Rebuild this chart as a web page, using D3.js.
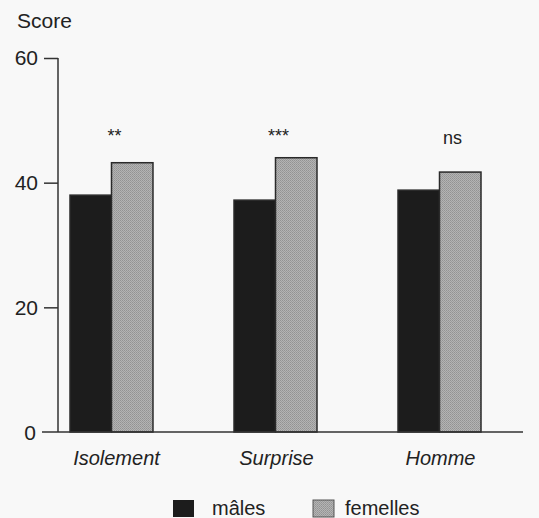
<!DOCTYPE html>
<html>
<head>
<meta charset="utf-8">
<script src="https://cdn.jsdelivr.net/npm/d3@7"></script>
<style>
  body { margin: 0; background: #f8f8f8; }
  svg { display: block; font-family: "Liberation Sans", Arial, sans-serif; }
</style>
</head>
<body>
<svg id="chart" width="539" height="518"></svg>
<script>
const categories = ["Isolement", "Surprise", "Homme"];
const series = ["mâles", "femelles"];
const males = [38.0, 37.2, 38.8];
const femelles = [43.2, 44.0, 41.7];
const signif = ["**", "***", "ns"];
const yTicks = [0, 20, 40, 60];

const svg = d3.select("#chart");
const colors = { "mâles": "#1c1c1c", "femelles": "#a6a6a6" };

// texture for the grey bars
const defs = svg.append("defs");
const pat = defs.append("pattern")
  .attr("id", "dots").attr("width", 2).attr("height", 2)
  .attr("patternUnits", "userSpaceOnUse");
pat.append("rect").attr("width", 2).attr("height", 2).attr("fill", "#b4b4b4");
pat.append("rect").attr("width", 1).attr("height", 1).attr("fill", "#939393");
pat.append("rect").attr("x", 1).attr("y", 1).attr("width", 1).attr("height", 1).attr("fill", "#9c9c9c");

const y = d3.scaleLinear([0, 60], [432, 58]);
const x0 = d3.scaleBand(categories, [70, 481]).paddingInner(0.494).paddingOuter(0);
const x1 = d3.scaleBand(series, [0, x0.bandwidth()]);

const data = categories.map((c, i) => ({ cat: c, vals: [
  { s: "mâles", v: males[i] }, { s: "femelles", v: femelles[i] }] }));

// y axis
const gy = svg.append("g").attr("transform", "translate(58,0)")
  .call(d3.axisLeft(y).tickValues(yTicks.filter(t => t > 0)).tickSize(14).tickPadding(6));
gy.select(".domain").attr("d", `M0,${y(60)}H-0V${y(0)}`);
gy.selectAll("line").attr("stroke", "#333").attr("stroke-width", 1.5);
gy.select(".domain").attr("stroke", "#333").attr("stroke-width", 1.5);
gy.selectAll("text").attr("font-size", 21).attr("fill", "#222")
  .attr("font-family", "Liberation Sans, Arial, sans-serif");

// bars
const groups = svg.append("g").selectAll("g").data(data).join("g")
  .attr("transform", d => `translate(${x0(d.cat)},0)`);
groups.selectAll("rect").data(d => d.vals).join("rect")
  .attr("x", d => x1(d.s))
  .attr("y", d => y(d.v))
  .attr("width", x1.bandwidth())
  .attr("height", d => y(0) - y(d.v))
  .attr("fill", d => d.s === "mâles" ? colors[d.s] : "url(#dots)")
  .attr("stroke", "#2a2a2a").attr("stroke-width", 1.5);

// baseline with zero tick
svg.append("line").attr("x1", 42).attr("x2", 523)
  .attr("y1", y(0)).attr("y2", y(0)).attr("stroke", "#333").attr("stroke-width", 1.5);
svg.append("text").attr("x", 30).attr("y", y(0) + 8).attr("text-anchor", "middle")
  .attr("font-size", 21).attr("fill", "#222").text(yTicks[0]);

// category labels
svg.append("g").selectAll("text").data(categories).join("text")
  .attr("x", (d, i) => x0(d) + x0.bandwidth() / 2 + (i === 0 ? 5 : 1))
  .attr("y", 465)
  .attr("text-anchor", "middle")
  .attr("font-size", 20).attr("font-style", "italic").attr("fill", "#222")
  .text(d => d);

// significance marks
svg.append("g").selectAll("text").data(signif).join("text")
  .attr("x", (d, i) => x0(categories[i]) + x0.bandwidth() / 2 + (d === "ns" ? 13 : 3))
  .attr("y", (d, i) => d === "ns" ? 144 : 142)
  .attr("text-anchor", "middle")
  .attr("font-size", d => d === "ns" ? 18 : 18).attr("fill", "#222")
  .text(d => d);

// title
svg.append("text").attr("x", 17).attr("y", 28).attr("font-size", 21).attr("fill", "#222").text("Score");

// legend
const legX = [173, 313];
const leg = svg.append("g").selectAll("g").data(series).join("g")
  .attr("transform", (d, i) => `translate(${legX[i]},500)`);
leg.append("rect").attr("width", 21).attr("height", 17)
  .attr("fill", d => d === "mâles" ? colors[d] : "url(#dots)")
  .attr("stroke", d => d === "mâles" ? "none" : "#555");
leg.append("text").attr("x", (d, i) => i === 0 ? 39 : 32).attr("y", 15)
  .attr("font-size", 20).attr("fill", "#222").text(d => d);
</script>
</body>
</html>
